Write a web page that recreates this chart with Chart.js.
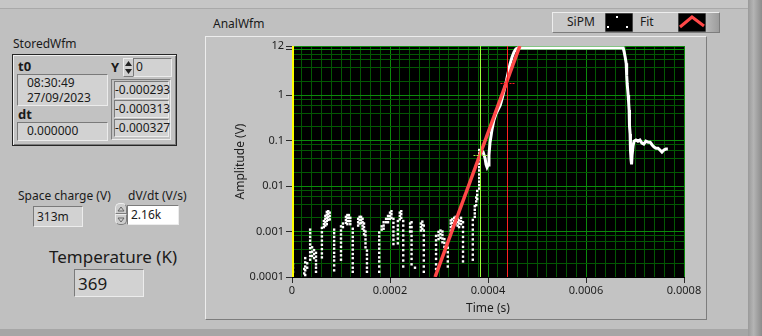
<!DOCTYPE html>
<html>
<head>
<meta charset="utf-8">
<script src="https://cdn.jsdelivr.net/npm/chart.js@4/dist/chart.umd.min.js"></script>
<style>
  html, body { margin: 0; padding: 0; }
  body {
    width: 762px; height: 336px; position: relative; overflow: hidden;
    background: #c0c0c0; font-family: "Noto Sans", sans-serif; font-size: 12px; color: #1a1a1a;
  }
  .a { position: absolute; white-space: nowrap; line-height: 14px; }
  .b { font-weight: bold; font-size: 13px; }
  .ind {
    position: absolute; background: #d2d2d2; box-sizing: border-box;
    border-top: 1px solid #7a7a7a; border-left: 1px solid #7a7a7a;
    border-bottom: 1px solid #ececec; border-right: 1px solid #ececec;
  }
  .raised {
    position: absolute; box-sizing: border-box;
    border-top: 1px solid #ededed; border-left: 1px solid #ededed;
    border-bottom: 1px solid #7d7d7d; border-right: 1px solid #7d7d7d;
  }
  #graphFrame { left: 205px; top: 36px; width: 502px; height: 284px; background: #c3c3c3; }
  #chart { position: absolute; left: 205px; top: 36px; }
</style>
</head>
<body>

<!-- panel edges -->
<div class="a" style="left:0;top:0;width:748px;height:8px;background:#c6c6c6;border-bottom:1px solid #a9a9a9;"></div>
<div class="a" style="left:748px;top:0;width:14px;height:336px;background:linear-gradient(90deg,#9a9a9a,#b4b4b4 40%,#8c8c8c);"></div>
<div class="a" style="left:0;top:329px;width:748px;height:7px;background:#a6a6a6;"></div>

<!-- StoredWfm cluster -->
<div class="a" style="left:13px;top:37px;">StoredWfm</div>
<div class="a" style="left:12px;top:54px;width:163px;height:90px;border:1px solid #262626;background:#c2c2c2;box-shadow:inset 1px 1px #f0f0f0, inset -1px -1px #7c7c7c;"></div>
<div class="a b" style="left:18px;top:59px;">t0</div>
<div class="ind" style="left:17px;top:74px;width:91px;height:32px;"></div>
<div class="a" style="left:27px;top:76px;">08:30:49</div>
<div class="a" style="left:27px;top:91px;">27/09/2023</div>
<div class="a b" style="left:18px;top:107px;">dt</div>
<div class="ind" style="left:17px;top:122px;width:91px;height:19px;"></div>
<div class="a" style="left:27px;top:124px;">0.000000</div>

<div class="a b" style="left:111px;top:60px;">Y</div>
<div class="raised" style="left:123px;top:58px;width:11px;height:19px;background:#cfcfcf;"></div>
<svg class="a" style="left:124px;top:59px;" width="9" height="17">
  <polygon points="1,7 4.5,2 8,7" fill="#222"/>
  <polygon points="1,10 4.5,15 8,10" fill="#222"/>
</svg>
<div class="ind" style="left:133px;top:58px;width:39px;height:19px;"></div>
<div class="a" style="left:136px;top:60px;">0</div>

<div class="a" style="left:111px;top:79px;width:60px;height:61px;border-top:1px solid #7d7d7d;border-left:1px solid #7d7d7d;border-right:1px solid #eee;border-bottom:1px solid #eee;box-sizing:border-box;"></div>
<div class="ind" style="left:114px;top:81px;width:55px;height:18px;"></div>
<div class="ind" style="left:114px;top:100px;width:55px;height:18px;"></div>
<div class="ind" style="left:114px;top:119px;width:55px;height:18px;"></div>
<div class="a" style="left:115px;top:83px;">-0.000293</div>
<div class="a" style="left:115px;top:102px;">-0.000313</div>
<div class="a" style="left:115px;top:121px;">-0.000327</div>

<!-- Space charge / dV/dt -->
<div class="a" style="left:18px;top:189px;">Space charge (V)</div>
<div class="ind" style="left:33px;top:206px;width:50px;height:21px;"></div>
<div class="a" style="left:37px;top:210px;">313m</div>

<div class="a" style="left:128px;top:189px;">dV/dt (V/s)</div>
<div class="raised" style="left:115px;top:203px;width:12px;height:11px;background:#cdcdcd;border-radius:5px 5px 0 0;"></div>
<div class="raised" style="left:115px;top:214px;width:12px;height:11px;background:#cdcdcd;border-radius:0 0 5px 5px;"></div>
<svg class="a" style="left:116px;top:204px;" width="10" height="21">
  <polygon points="2,7 5,3 8,7" fill="none" stroke="#666" stroke-width="1"/>
  <polygon points="2,14 5,18 8,14" fill="none" stroke="#666" stroke-width="1"/>
</svg>
<div class="ind" style="left:127px;top:205px;width:52px;height:20px;background:#ffffff;"></div>
<div class="a" style="left:131px;top:208px;">2.16k</div>

<!-- Temperature -->
<div class="a" style="left:49px;top:247px;font-size:17px;line-height:20px;">Temperature (K)</div>
<div class="ind" style="left:74px;top:269px;width:70px;height:28px;"></div>
<div class="a" style="left:78px;top:274px;font-size:17px;line-height:20px;">369</div>

<!-- graph -->
<div class="a" style="left:213px;top:17px;">AnalWfm</div>
<div class="raised" id="graphFrame"></div>
<canvas id="chart" width="502" height="284"></canvas>

<!-- legend -->
<div class="raised" style="left:552px;top:12px;width:168px;height:21px;background:linear-gradient(90deg,#c8c8c8 0%,#c8c8c8 88%,#9c9c9c 100%);"></div>
<div class="a" style="left:567px;top:15px;">SiPM</div>
<svg class="a" style="left:605px;top:13px;" width="28" height="19">
  <rect x="0" y="0" width="28" height="19" fill="#000" stroke="#888" stroke-width="1"/>
  <rect x="11" y="3" width="2" height="2" fill="#fff"/>
  <rect x="2" y="13" width="2" height="2" fill="#fff"/>
  <rect x="21" y="13" width="2" height="2" fill="#fff"/>
</svg>
<div class="a" style="left:640px;top:15px;">Fit</div>
<svg class="a" style="left:678px;top:13px;" width="28" height="19">
  <rect x="0" y="0" width="28" height="19" fill="#000" stroke="#888" stroke-width="1"/>
  <polyline points="2,14 14,4 26,13" fill="none" stroke="#ff4848" stroke-width="3"/>
</svg>

<script>
// ---- axis ticks ----
const xTickValues = [0, 0.0002, 0.0004, 0.0006, 0.0008];
const xTickLabels = ['0', '0.0002', '0.0004', '0.0006', '0.0008'];
const yTickValues = [0.0001, 0.001, 0.01, 0.1, 1, 10, 12];
const yTickLabels = ['0.0001', '0.001', '0.01', '0.1', '1', '', '12'];

// ---- SiPM waveform (time in microseconds, amplitude in volts) ----
const noiseTime = [2, 25, 27, 31, 37, 41, 45, 49, 61, 65, 68, 71, 74, 77, 86, 100, 104, 110, 113, 116, 119, 124,
  135, 138, 141, 144, 147, 150, 153, 178, 183, 187, 192, 196, 200, 203, 207, 216, 220, 223, 227,
  241, 244, 251, 263, 266, 269, 294, 299, 303, 307, 311, 318, 324, 327, 331, 334, 338, 341, 345, 349,
  369, 373, 376, 378, 382];
const noiseAmp = [
  [1.9e-4, 1.6e-4, 1.3e-4],
  [1.5e-4, 1.2e-4],
  [2.6e-4, 2.1e-4, 1.7e-4, 1.4e-4, 1.1e-4],
  [2.0e-4, 1.6e-4],
  [1.1e-3, 9.2e-4, 7.6e-4, 6.3e-4, 5.2e-4, 4.3e-4, 3.5e-4, 2.9e-4, 2.4e-4],
  [4.5e-4, 3.6e-4, 2.9e-4],
  [3.9e-4, 3.2e-4, 2.6e-4],
  [3.4e-4, 2.8e-4, 2.3e-4, 1.9e-4, 1.6e-4, 1.3e-4],
  [1.2e-3, 9.6e-4, 7.8e-4, 6.3e-4, 5.1e-4, 4.1e-4, 3.3e-4, 2.7e-4],
  [1.7e-3, 1.45e-3, 1.25e-3],
  [2.2e-3, 1.9e-3, 1.6e-3, 1.35e-3],
  [2.7e-3, 2.35e-3, 2.0e-3, 1.7e-3, 1.45e-3],
  [2.8e-3, 2.45e-3, 2.1e-3, 1.8e-3],
  [2.6e-3, 2.2e-3, 1.85e-3],
  [1.1e-3, 9.2e-4, 7.6e-4, 6.2e-4, 5.1e-4, 4.2e-4, 3.4e-4, 2.8e-4, 2.3e-4, 1.8e-4, 1.4e-4],
  [1.3e-3, 1.05e-3, 8.6e-4, 7.0e-4, 5.7e-4, 4.6e-4, 3.7e-4, 3.0e-4, 2.4e-4],
  [1.5e-3, 1.25e-3],
  [2.1e-3, 1.8e-3, 1.55e-3],
  [2.3e-3, 2.0e-3, 1.7e-3, 1.45e-3],
  [2.3e-3, 2.0e-3, 1.7e-3],
  [2.0e-3, 1.7e-3, 1.45e-3],
  [1.15e-3, 9.4e-4, 7.6e-4, 6.2e-4, 5.0e-4, 4.0e-4, 3.2e-4, 2.6e-4, 2.0e-4, 1.6e-4, 1.3e-4],
  [1.9e-3, 1.6e-3, 1.35e-3],
  [2.1e-3, 1.8e-3, 1.5e-3],
  [2.1e-3, 1.8e-3, 1.55e-3],
  [1.9e-3, 1.6e-3, 1.35e-3, 1.15e-3],
  [1.5e-3, 1.25e-3, 1.05e-3, 8.7e-4],
  [1.0e-3, 8.2e-4, 6.7e-4, 5.5e-4, 4.5e-4],
  [3.8e-4, 3.1e-4, 2.5e-4, 2.0e-4, 1.6e-4, 1.3e-4],
  [9.5e-4, 7.8e-4, 6.4e-4, 5.2e-4, 4.2e-4, 3.4e-4, 2.7e-4, 2.2e-4, 1.7e-4, 1.3e-4],
  [1.3e-3, 1.1e-3],
  [1.6e-3, 1.35e-3, 1.15e-3],
  [1.9e-3, 1.6e-3],
  [2.2e-3, 1.9e-3, 1.6e-3],
  [2.6e-3, 2.2e-3, 1.9e-3],
  [2.8e-3, 2.4e-3, 2.0e-3],
  [1.9e-3, 1.55e-3, 1.25e-3, 1.0e-3, 8.2e-4, 6.6e-4, 5.3e-4],
  [1.7e-3, 1.35e-3, 1.1e-3, 8.8e-4, 7.0e-4, 5.5e-4],
  [2.6e-3, 2.2e-3, 1.85e-3],
  [2.8e-3, 2.4e-3, 2.0e-3],
  [1.7e-3, 1.35e-3, 1.05e-3, 8.2e-4, 6.4e-4, 5.0e-4, 3.9e-4, 3.0e-4, 2.3e-4, 1.7e-4],
  [1.5e-3, 1.25e-3, 1.0e-3],
  [1.6e-3, 1.25e-3, 1.0e-3, 8.0e-4, 6.4e-4, 5.1e-4, 4.0e-4, 3.2e-4, 2.5e-4, 1.9e-4],
  [1.6e-4],
  [1.5e-3, 1.25e-3, 1.05e-3],
  [1.65e-3, 1.4e-3, 1.15e-3],
  [1.35e-3, 1.05e-3, 8.2e-4, 6.4e-4, 5.0e-4, 3.9e-4, 3.0e-4, 2.3e-4, 1.7e-4, 1.3e-4],
  [8.0e-4, 6.4e-4, 5.1e-4, 4.0e-4, 3.2e-4, 2.5e-4, 1.9e-4, 1.5e-4],
  [9.8e-4, 8.2e-4, 6.8e-4],
  [1.05e-3, 8.8e-4, 7.3e-4],
  [1.0e-3, 8.4e-4, 7.0e-4, 5.8e-4],
  [6.8e-4, 5.6e-4, 4.6e-4],
  [4.4e-4, 3.5e-4, 2.8e-4, 2.2e-4, 1.7e-4],
  [1.75e-3, 1.5e-3, 1.25e-3, 1.05e-3],
  [1.85e-3, 1.55e-3, 1.3e-3],
  [2.0e-3, 1.7e-3, 1.45e-3],
  [2.1e-3, 1.8e-3, 1.5e-3],
  [1.9e-3, 1.6e-3, 1.35e-3],
  [1.75e-3, 1.5e-3, 1.25e-3],
  [2.0e-3, 1.7e-3, 1.45e-3],
  [1.6e-3, 1.25e-3, 9.8e-4, 7.6e-4, 5.9e-4, 4.6e-4, 3.6e-4, 2.8e-4, 2.2e-4],
  [1.8e-3, 1.4e-3, 1.1e-3, 8.6e-4, 6.7e-4, 5.2e-4, 4.0e-4, 3.1e-4, 2.4e-4],
  [3.6e-3, 3.0e-3, 2.5e-3, 2.1e-3],
  [5.6e-3, 4.6e-3, 3.8e-3],
  [7.8e-3, 6.4e-3, 5.2e-3],
  [0.062, 0.052, 0.044, 0.037, 0.031, 0.026, 0.022, 0.018, 0.015, 0.0125, 0.0105, 0.0088]
];
// the pulse itself: rise, saturated top, fall and ringing tail
const pulseTime = [386, 390, 394, 396, 398, 400, 402, 404, 408, 412, 416, 420, 425, 429, 433, 437, 441, 445,
  449, 453, 457, 461, 676, 678, 680, 682, 683, 684, 686, 687, 688, 688.5, 689, 690, 690.5, 691, 692, 693,
  694, 696, 698, 702, 706, 710, 714, 718, 722, 727, 731, 735, 739, 743, 747, 751, 755, 759, 763, 767];
const pulseAmp = [0.062, 0.056, 0.041, 0.030, 0.026, 0.029, 0.048, 0.088, 0.17, 0.28, 0.38, 0.47, 0.60, 0.86,
  1.29, 1.93, 3.05, 4.8, 6.8, 8.8, 10.3, 10.8, 10.8, 8.8, 6.8, 5.0, 2.75, 1.8, 1.0, 0.70, 0.47, 0.31, 0.21,
  0.14, 0.093, 0.062, 0.037, 0.030, 0.048, 0.076, 0.097, 0.103, 0.097, 0.103, 0.088, 0.084, 0.097, 0.092,
  0.092, 0.080, 0.072, 0.068, 0.068, 0.062, 0.056, 0.062, 0.065, 0.065];

// ---- exponential fit (straight on the log axis) ----
const fitTime = [292, 465];
const fitAmp = [0.0001, 12];

// ---- graph cursors ----
const cursorTime = [2, 384, 439.4];
const cursorAmp = [null, 0.048, 1.86];

const US = 1e-6;

const sipmPoints = [];
noiseTime.forEach((t, i) => noiseAmp[i].forEach(a => sipmPoints.push({ x: t * US, y: a })));
const noiseCount = sipmPoints.length;
pulseTime.forEach((t, i) => sipmPoints.push({ x: t * US, y: pulseAmp[i] }));

const fitPoints = fitTime.map((t, i) => ({ x: t * US, y: fitAmp[i] }));

const MAJOR_GRID = '#0b8a0b';
const MINOR_GRID = '#035803';

const plotBackground = {
    id: 'plotBackground',
    beforeDraw(chart) {
        const { ctx, chartArea: a } = chart;
        ctx.save();
        ctx.fillStyle = '#000';
        ctx.fillRect(a.left, a.top, a.right - a.left, a.bottom - a.top);
        ctx.restore();
    }
};

const cursors = {
    id: 'cursors',
    afterDatasetsDraw(chart) {
        const { ctx, chartArea: a, scales: { x, y } } = chart;
        const colors = ['#ffff00', '#9cff3c', '#ff2020'];
        const widths = [2, 1, 1];
        ctx.save();
        cursorTime.forEach((t, i) => {
            const px = Math.round(x.getPixelForValue(t * US)) + (widths[i] === 1 ? 0.5 : 0);
            ctx.strokeStyle = colors[i];
            ctx.lineWidth = widths[i];
            ctx.beginPath();
            ctx.moveTo(px, a.top);
            ctx.lineTo(px, a.bottom);
            ctx.stroke();
            if (cursorAmp[i] !== null) {
                const py = Math.round(y.getPixelForValue(cursorAmp[i])) + 0.5;
                ctx.lineWidth = 1;
                ctx.setLineDash([2, 1]);
                ctx.beginPath();
                ctx.moveTo(px - 7, py); ctx.lineTo(px - 2, py);
                ctx.moveTo(px + 2, py); ctx.lineTo(px + 7, py);
                ctx.moveTo(px, py - 7); ctx.lineTo(px, py - 2);
                ctx.moveTo(px, py + 2); ctx.lineTo(px, py + 7);
                ctx.stroke();
                ctx.setLineDash([]);
            }
        });
        ctx.restore();
    }
};

const tickFont = { family: 'Noto Sans', size: 11 };
const titleFont = { family: 'Noto Sans', size: 12 };

new Chart(document.getElementById('chart'), {
    type: 'line',
    data: {
        datasets: [
            {
                label: 'Fit',
                data: fitPoints,
                borderColor: '#ff4848',
                borderWidth: 3.5,
                pointRadius: 0,
                order: 0
            },
            {
                label: 'SiPM',
                data: sipmPoints,
                borderColor: '#ffffff',
                backgroundColor: '#ffffff',
                borderWidth: 3,
                pointStyle: 'rect',
                pointBorderWidth: 0,
                pointRadius: ctx => (ctx.dataIndex < noiseCount ? 1.7 : 0),
                segment: {
                    borderColor: ctx => (ctx.p0DataIndex < noiseCount ? 'transparent' : '#ffffff')
                },
                order: 1
            }
        ]
    },
    options: {
        responsive: false,
        animation: false,
        devicePixelRatio: 1,
        layout: { padding: { left: 0, top: 10, right: 23, bottom: 0 } },
        plugins: { legend: { display: false }, tooltip: { enabled: false } },
        scales: {
            x: {
                type: 'linear',
                min: 0,
                max: 0.0008,
                afterBuildTicks(scale) {
                    const ticks = [];
                    for (let i = 0; i <= 40; i++) ticks.push({ value: i * 0.00002, major: i % 10 === 0 });
                    scale.ticks = ticks;
                },
                afterFit(scale) { scale.height = 43; },
                ticks: {
                    autoSkip: false,
                    maxRotation: 0,
                    padding: 1,
                    color: '#1e1e1e',
                    font: tickFont,
                    callback(value) {
                        const k = xTickValues.findIndex(v => Math.abs(v - value) < 1e-9);
                        return k >= 0 ? xTickLabels[k] : '';
                    }
                },
                grid: {
                    color: ctx => (ctx.tick && ctx.tick.major ? MAJOR_GRID : MINOR_GRID),
                    lineWidth: 1,
                    tickLength: 6,
                    tickColor: ctx => (ctx.tick && ctx.tick.major ? '#2a2a2a' : 'transparent')
                },
                border: { display: true, color: '#000' },
                title: {
                    display: true,
                    text: 'Time (s)',
                    color: '#1e1e1e',
                    font: titleFont,
                    padding: { top: 0, bottom: 4 }
                }
            },
            y: {
                type: 'logarithmic',
                min: 0.0001,
                max: 12,
                afterBuildTicks(scale) {
                    const ticks = [];
                    [0.0001, 0.001, 0.01, 0.1, 1].forEach(d => {
                        ticks.push({ value: d, major: true });
                        [2, 4, 6, 8].forEach(m => ticks.push({ value: d * m, major: false }));
                    });
                    ticks.push({ value: 10, major: true });
                    ticks.push({ value: 12, major: true });
                    scale.ticks = ticks;
                },
                afterFit(scale) { scale.width = 87; },
                ticks: {
                    autoSkip: false,
                    padding: 2,
                    color: '#1e1e1e',
                    font: tickFont,
                    callback(value) {
                        const k = yTickValues.findIndex(v => Math.abs(v - value) / v < 1e-6);
                        return k >= 0 ? yTickLabels[k] : '';
                    }
                },
                grid: {
                    color: ctx => (ctx.tick && ctx.tick.major ? MAJOR_GRID : MINOR_GRID),
                    lineWidth: 1,
                    tickLength: 6,
                    tickColor: ctx => (ctx.tick && ctx.tick.major ? '#2a2a2a' : 'transparent')
                },
                border: { display: true, color: '#000' },
                title: {
                    display: true,
                    text: 'Amplitude (V)',
                    color: '#1e1e1e',
                    font: titleFont,
                    padding: { top: 28, bottom: 0 }
                }
            }
        }
    },
    plugins: [plotBackground, cursors]
});
</script>
</body>
</html>
